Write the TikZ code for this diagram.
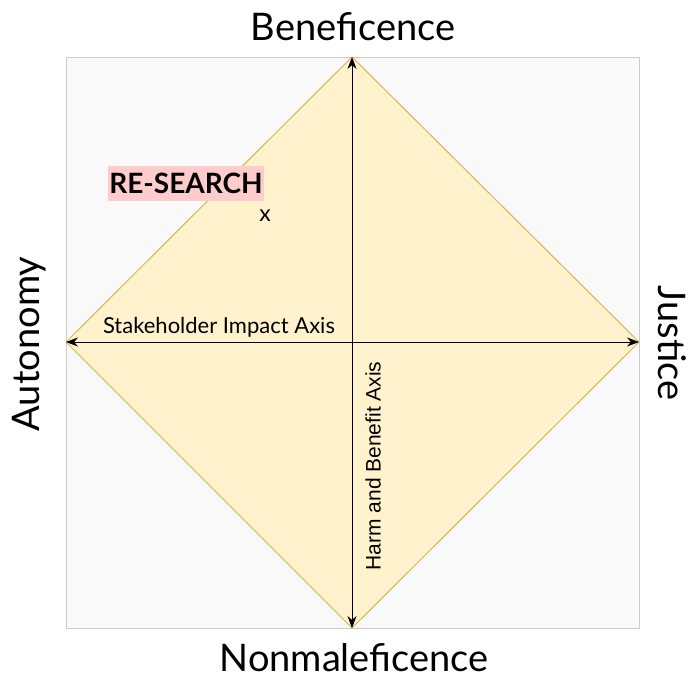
\documentclass[tikz,border=0pt]{standalone}
\usepackage{fontspec}
\setmainfont{Lato}
\newfontfamily\arialfont{Liberation Sans}
\usetikzlibrary{arrows.meta}
\definecolor{boxfill}{HTML}{F9F9F9}
\definecolor{boxline}{HTML}{CCCCCC}
\definecolor{dfill}{HTML}{FFF2CC}
\definecolor{dline}{HTML}{D6B656}
\definecolor{pinkfill}{HTML}{FFCCCC}
\tikzset{
  axisarrow/.style={draw=black, line width=1pt, -{Stealth[length=12pt,width=9pt]}},
  biglabel/.style={font=\fontsize{38}{44}\selectfont, inner sep=0pt},
  axislabel/.style={font=\fontsize{22}{26}\selectfont, inner sep=0pt},
}
\begin{document}
\begin{tikzpicture}[x=1pt,y=-1pt]
\useasboundingbox (0,0) rectangle (689,678);
\draw[boxline, fill=boxfill, line width=1pt] (66,57) rectangle (639,628);
\coordinate (T) at (352,57);
\coordinate (B) at (352,628);
\coordinate (L) at (66,342);
\coordinate (R) at (639,342);
\coordinate (C) at (352,342);
\draw[dline, fill=dfill, line width=1pt] (T) -- (R) -- (B) -- (L) -- cycle;
\draw[axisarrow] (C) -- (T);
\draw[axisarrow] (C) -- (B);
\draw[axisarrow] (C) -- (L);
\draw[axisarrow] (C) -- (R);
\node[biglabel] (ben) at (353,27) {Beneficence};
\node[biglabel] (non) at (354,658) {Nonmaleficence};
\node[biglabel, rotate=90] (aut) at (29,344) {Autonomy};
\node[biglabel, rotate=-90] (jus) at (672,343) {Justice};
\node[axislabel] (sia) at (219,327) {Stakeholder Impact Axis};
\node[axislabel, font=\arialfont\fontsize{21}{24}\selectfont, rotate=90] (hba) at (373,466) {Harm and Benefit Axis};
\node[fill=pinkfill, minimum width=156pt, minimum height=35pt, inner sep=0pt, font=\bfseries\fontsize{28}{32}\selectfont] (rs) at (186,183.5) {RE-SEARCH};
\node[font=\fontsize{23}{26}\selectfont, inner sep=0pt] (xm) at (265,216) {x};
\end{tikzpicture}
\end{document}
